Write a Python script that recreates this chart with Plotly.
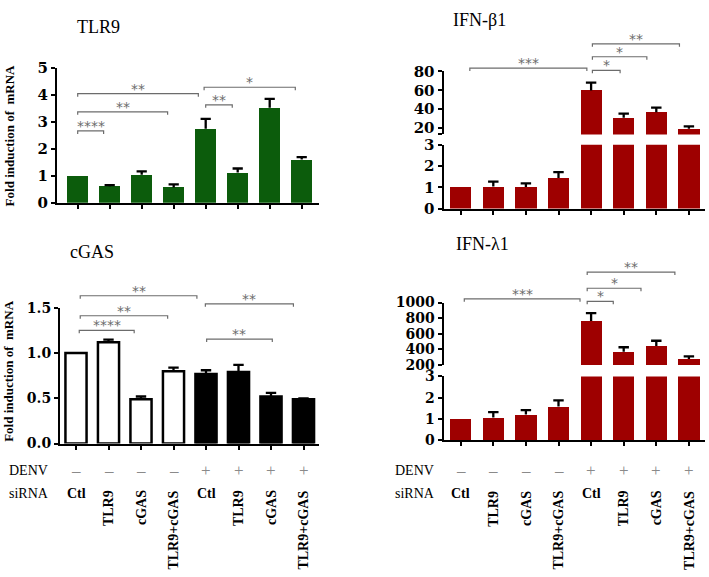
import plotly.graph_objects as go

W, H = 709, 577

# ---------------- data ----------------
siRNA = ['Ctl', 'TLR9', 'cGAS', 'TLR9+cGAS', 'Ctl', 'TLR9', 'cGAS', 'TLR9+cGAS']
denv = ['–', '–', '–', '–', '+', '+', '+', '+']

tlr9_mean = [1.00, 0.61, 1.04, 0.57, 2.74, 1.12, 3.52, 1.60]
tlr9_err = [0.00, 0.04, 0.12, 0.11, 0.37, 0.15, 0.33, 0.09]

cgas_mean = [1.00, 1.12, 0.49, 0.80, 0.77, 0.79, 0.52, 0.49]
cgas_err = [0.00, 0.03, 0.03, 0.04, 0.04, 0.08, 0.04, 0.01]

ifnb_mean = [1.00, 1.03, 1.01, 1.44, 59.9, 30.7, 36.7, 19.0]
ifnb_err = [0.00, 0.23, 0.17, 0.27, 8.3, 4.5, 4.8, 2.7]

ifnl_mean = [1.00, 1.07, 1.21, 1.59, 765, 371, 445, 278]
ifnl_err = [0.00, 0.26, 0.21, 0.29, 100, 57, 66, 34]

tlr9_ticks = [0, 1, 2, 3, 4, 5]
cgas_ticks = [0.0, 0.5, 1.0, 1.5]
low_ticks = [0, 1, 2, 3]
ifnb_up_ticks = [20, 40, 60, 80]
ifnl_up_ticks = [200, 400, 600, 800, 1000]

# brackets: (from, to, height, label) in category / data units
tlr9_br = [(0, 3.77, 4.04, '**'), (0, 2.81, 3.37, '**'), (0, 0.81, 2.66, '****'),
           (4.0, 4.83, 3.63, '**'), (3.95, 6.8, 4.28, '*')]
cgas_br = [(0.13, 3.72, 1.634, '**'), (0.13, 2.82, 1.413, '**'), (0.10, 1.79, 1.252, '****'),
           (3.98, 6.69, 1.545, '**'), (4.02, 6.04, 1.155, '**')]
ifnb_br = [(0.28, 3.87, 83.6, '***'), (4.04, 4.89, 81.2, '*'), (4.04, 5.71, 95.7, '*'),
           (4.04, 6.71, 109.4, '**')]
ifnl_br = [(0.11, 3.66, 1046, '***'), (3.88, 4.68, 1016, '*'), (3.88, 5.53, 1183, '*'),
           (3.88, 6.57, 1389, '**')]

# ---------------- style / helpers ----------------
FONT = 'Liberation Serif, Times New Roman, serif'
TICKFONT = 'DejaVu Serif, serif'
GREEN = '#0c5c0c'
RED = '#9e0000'
BRC = '#6c6c6c'
idx = list(range(len(siRNA)))


def fx(px):
    return px / W


def fy(py):
    return 1 - py / H


def b(s):
    return '<b>%s</b>' % s if s else ''


def yax(bottom, top, rng, tv, tt, anchor, fsize):
    return dict(domain=[fy(bottom), fy(top)], range=rng, anchor=anchor,
                tickvals=tv, ticktext=[b(t) for t in tt], showline=True, linewidth=2,
                linecolor='black', ticks='outside', ticklen=4, tickwidth=2,
                tickcolor='black', showgrid=False, zeroline=False,
                tickfont=dict(family=TICKFONT, size=fsize, color='black'))


def xax(left, right, rng, anchor):
    return dict(domain=[fx(left), fx(right)], range=rng, anchor=anchor,
                tickvals=idx, showticklabels=False, showline=True, linewidth=2,
                linecolor='black', ticks='outside', ticklen=4, tickwidth=2,
                tickcolor='black', showgrid=False, zeroline=False)


def err_lines(mean, err, cap=0.16):
    xs, ys = [], []
    for i, (m, e) in enumerate(zip(mean, err)):
        if e <= 0:
            continue
        xs += [i, i, None, i - cap, i + cap, None]
        ys += [m, m + e, None, m + e, m + e, None]
    return xs, ys


fig = go.Figure()
layout = {}
annotations = []

panels = [
    dict(title='TLR9', tpos=(75, 18.5), mean=tlr9_mean, err=tlr9_err,
         color=[GREEN] * 8, lw=0, xpx=(57, 319), c0=77.7, s=32.0, fs=15,
         segs=[(200, 60.7, [0, 5], tlr9_ticks, [str(v) for v in tlr9_ticks])],
         br=tlr9_br, ext=20, ylab=131.5, rows=False),
    dict(title='IFN-β1', tpos=(450.7, 11), mean=ifnb_mean, err=ifnb_err,
         color=[RED] * 8, lw=0, xpx=(443.5, 705), c0=460.7, s=32.6, fs=15,
         segs=[(206, 140, [0, 3], low_ticks, [str(v) for v in low_ticks]),
               (129.5, 64.5, [13, 80], [13] + ifnb_up_ticks, [''] + [str(v) for v in ifnb_up_ticks])],
         br=ifnb_br, ext=15, ylab=None, rows=False),
    dict(title='cGAS', tpos=(68, 251), mean=cgas_mean, err=cgas_err,
         color=['white'] * 4 + ['black'] * 4, lw=2.5, xpx=(60, 319), c0=76.0, s=32.5, fs=14,
         segs=[(448.5, 308.5, [0, 1.5], cgas_ticks, ['%.1f' % v for v in cgas_ticks])],
         br=cgas_br, ext=270, ylab=374.5, rows=True),
    dict(title='IFN-λ1', tpos=(454.3, 242.5), mean=ifnl_mean, err=ifnl_err,
         color=[RED] * 8, lw=0, xpx=(443.5, 705), c0=460.7, s=32.6, fs=14,
         segs=[(445.3, 379.3, [0, 3], low_ticks, [str(v) for v in low_ticks]),
               (367.5, 303, [200, 1000], ifnl_up_ticks, [str(v) for v in ifnl_up_ticks])],
         br=ifnl_br, ext=255, ylab=None, rows=True),
]

yid = 0
xid = 0
for p in panels:
    xid += 1
    xname = 'x' if xid == 1 else 'x%d' % xid
    xl, xr = p['xpx']
    xrng = [(xl - p['c0']) / p['s'], (xr - p['c0']) / p['s']]
    first_y = None
    for (bt, tp, rng, tv, tt) in p['segs']:
        yid += 1
        yname = 'y' if yid == 1 else 'y%d' % yid
        if first_y is None:
            first_y = yname
        layout['yaxis' if yid == 1 else 'yaxis%d' % yid] = yax(bt, tp, rng, tv, tt, xname, p['fs'])
        fig.add_trace(go.Bar(x=idx, y=p['mean'], width=0.65, xaxis=xname, yaxis=yname,
                             marker=dict(color=p['color'],
                                         line=dict(color='black', width=p['lw']))))
        ex, ey = err_lines(p['mean'], p['err'])
        fig.add_trace(go.Scatter(x=ex, y=ey, mode='lines', xaxis=xname, yaxis=yname,
                                 line=dict(color='black', width=2.3)))
    layout['xaxis' if xid == 1 else 'xaxis%d' % xid] = xax(xl, xr, xrng, first_y)
    p['xname'] = xname
    p['xrng'] = xrng
    bt, tp, rng, _, _ = p['segs'][-1]
    p['topseg'] = (bt, tp, rng)

# overlay axes for significance brackets (same scale as the top segment)
for p in panels:
    xid += 1
    yid += 1
    xname = 'x%d' % xid
    yname = 'y%d' % yid
    bt, tp, rng = p['topseg']
    per_px = (rng[1] - rng[0]) / (bt - tp)
    top = p['ext']
    layout['xaxis%d' % xid] = dict(domain=[fx(p['xpx'][0]), fx(p['xpx'][1])],
                                   range=p['xrng'], anchor=yname, visible=False)
    layout['yaxis%d' % yid] = dict(domain=[fy(bt), fy(top)],
                                   range=[rng[0], rng[0] + per_px * (bt - top)],
                                   anchor=xname, visible=False)
    d = 3 * per_px
    bx, by = [], []
    for (a, c, h, lab) in p['br']:
        bx += [a, a, c, c, None]
        by += [h - d, h, h, h - d, None]
        annotations.append(dict(x=(a + c) / 2, y=h, xref=xname, yref=yname, text=lab,
                                showarrow=False, yanchor='bottom', yshift=-5,
                                font=dict(family='DejaVu Sans', size=14, color=BRC)))
    fig.add_trace(go.Scatter(x=bx, y=by, mode='lines', xaxis=xname, yaxis=yname,
                             line=dict(color=BRC, width=1.2)))

# titles, y labels, DENV / siRNA rows
for p in panels:
    annotations.append(dict(x=fx(p['tpos'][0]), y=fy(p['tpos'][1]), xref='paper', yref='paper',
                            text=p['title'], showarrow=False, xanchor='left', yanchor='middle',
                            font=dict(family=FONT, size=18, color='black')))
    if p['ylab'] is not None:
        annotations.append(dict(x=fx(9), y=fy(p['ylab']), xref='paper', yref='paper',
                                text=b('Fold induction of\u00a0 mRNA'), textangle=-90,
                                showarrow=False, xanchor='center', yanchor='middle',
                                font=dict(family=FONT, size=13, color='black')))
    if p['rows']:
        left = 7 if p['xpx'][0] < 300 else 393
        annotations.append(dict(x=fx(left), y=fy(476.7), xref='paper', yref='paper', text='DENV',
                                showarrow=False, xanchor='left', yanchor='middle',
                                font=dict(family=FONT, size=14, color='black')))
        annotations.append(dict(x=fx(left), y=fy(500), xref='paper', yref='paper', text='siRNA',
                                showarrow=False, xanchor='left', yanchor='middle',
                                font=dict(family=FONT, size=14, color='black')))
        for i in idx:
            annotations.append(dict(x=i, y=fy(476.7), xref=p['xname'], yref='paper', text=denv[i],
                                    showarrow=False, xanchor='center', yanchor='middle',
                                    font=dict(family=FONT, size=17, color='#8a8a8a')))
            if siRNA[i] == 'Ctl':
                annotations.append(dict(x=i, y=fy(500), xref=p['xname'], yref='paper',
                                        text=b(siRNA[i]), showarrow=False, xanchor='center',
                                        yanchor='middle',
                                        font=dict(family=FONT, size=14, color='black')))
            else:
                annotations.append(dict(x=i, y=fy(495), xref=p['xname'], yref='paper',
                                        text=b(siRNA[i]), textangle=-90, showarrow=False,
                                        xanchor='center', yanchor='top',
                                        font=dict(family=FONT, size=14, color='black')))

layout.update(dict(width=W, height=H, margin=dict(l=0, r=0, t=0, b=0),
                   paper_bgcolor='white', plot_bgcolor='rgba(0,0,0,0)',
                   showlegend=False, bargap=0, annotations=annotations))
fig.update_layout(**layout)
fig.write_html('out.html', config={'displayModeBar': False, 'staticPlot': True},
               post_script="document.body.style.margin='0px';document.body.style.padding='0px';")
